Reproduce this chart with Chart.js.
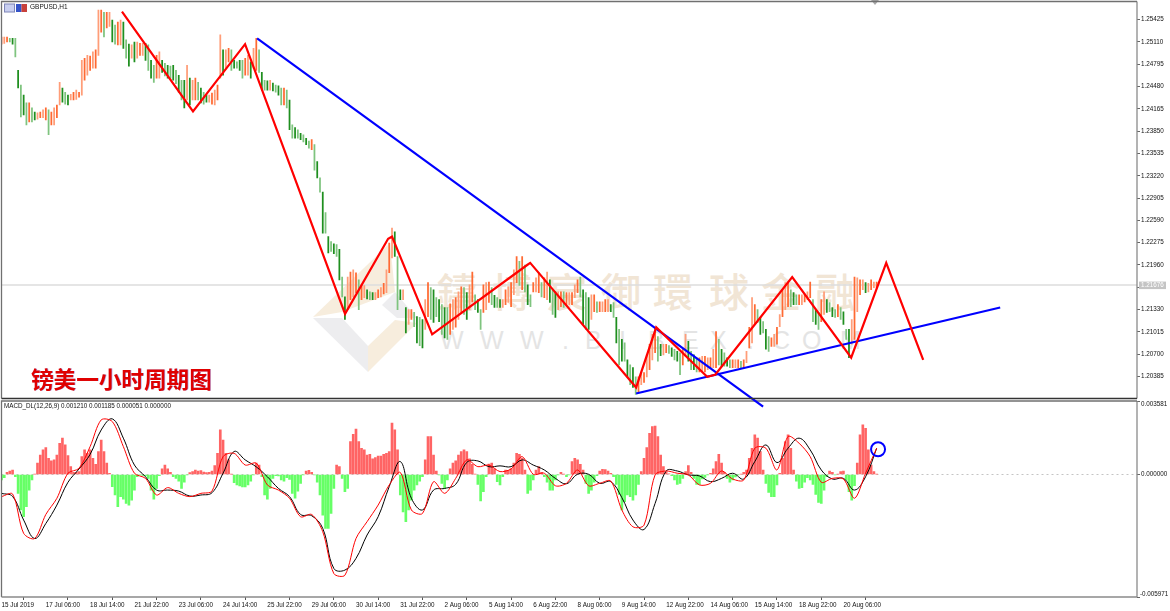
<!DOCTYPE html>
<html><head><meta charset="utf-8">
<style>
html,body{margin:0;padding:0;background:#fff;width:1170px;height:611px;overflow:hidden}
canvas,svg,.t{position:absolute;pointer-events:none}
.t{white-space:nowrap;font-family:"Liberation Sans",sans-serif;color:#111}
</style>
<script src="https://cdn.jsdelivr.net/npm/chart.js@4/dist/chart.umd.min.js"></script>
</head><body>
<svg style="left:0;top:0" width="1170" height="611">
<polygon points="313,317 390,243 395,292 342,312" fill="#f7eddd"/>
<polygon points="313,318 368,372 368,346 342,318" fill="#ededef"/>
<polygon points="368,372 417,323 395,320 368,346" fill="#f7eddd"/>
<polygon points="395,292 417,318 397,318 382,305" fill="#ededef"/>
<text y="307" x="437 492 547 601 653 709 761 815" font-family="Noto Sans CJK TC" font-size="40" font-weight="500" fill="#f1e5d5">鑄博宸御環球金融</text>
<text y="349" x="440 480 520 562 585 619 648 682 710 747 772 802 840" font-family="Liberation Sans" font-size="25" fill="#e4e4e4">WWW.BIBEX.COM</text>
<polygon points="871,0 879,0 875,5" fill="#a8a8a8"/>
<rect x="4.5" y="4" width="10" height="8" fill="#c9cff0" stroke="#7f86b8" stroke-width="1"/>
<rect x="16" y="4" width="5.5" height="8" fill="#3554c8"/><rect x="21.5" y="4" width="5.5" height="8" fill="#c8413b"/>
</svg>
<canvas id="macd" width="1170" height="211" style="left:0;top:400px"></canvas>
<canvas id="price" width="1170" height="412" style="left:0;top:0"></canvas>
<div class="t" style="left:30px;top:3px;font-size:6.5px;line-height:8px">GBPUSD,H1</div>
<div class="t" style="left:4px;top:402px;font-size:6.3px;line-height:8px">MACD_DL(12,26,9) 0.001210 0.001185 0.000051 0.000000</div>
<div class="t" style="left:31px;top:366px;font:bold 22.6px/26px 'Noto Sans CJK SC',sans-serif;color:#e00000;text-shadow:.7px 0 0 rgba(0,0,200,.35)">镑美一小时周期图</div>
<script>
const xLabels=["15 Jul 2019","17 Jul 06:00","18 Jul 14:00","21 Jul 22:00","23 Jul 06:00","24 Jul 14:00","25 Jul 22:00","29 Jul 06:00","30 Jul 14:00","31 Jul 22:00","2 Aug 06:00","5 Aug 14:00","6 Aug 22:00","8 Aug 06:00","9 Aug 14:00","12 Aug 22:00","14 Aug 06:00","15 Aug 14:00","18 Aug 22:00","20 Aug 06:00"];
const priceTicks=[1.25425,1.2511,1.24795,1.2448,1.24165,1.2385,1.23535,1.2322,1.22905,1.2259,1.22275,1.2196,1.21645,1.2133,1.21015,1.207,1.20385];
const lastPrice=1.21676;
const macdTicks=[0.003581,0,-0.005971];
const highs=[
1.2518,1.2518,1.2518,1.2516,1.2516,1.2516,1.2471,1.2450,1.2436,1.2425,
1.2425,1.2418,1.2412,1.2411,1.2412,1.2415,1.2418,1.2415,1.2412,1.2418,
1.2422,1.2454,1.2446,1.2440,1.2436,1.2437,1.2440,1.2443,1.2440,1.2485,
1.2488,1.2492,1.2491,1.2497,1.2500,1.2556,1.2556,1.2553,1.2553,1.2553,
1.2542,1.2535,1.2539,1.2542,1.2539,1.2514,1.2508,1.2507,1.2511,1.2511,
1.2509,1.2509,1.2509,1.2507,1.2485,1.2478,1.2492,1.2497,1.2485,1.2481,
1.2478,1.2477,1.2478,1.2471,1.2464,1.2457,1.2457,1.2478,1.2460,1.2457,
1.2460,1.2454,1.2446,1.2440,1.2436,1.2436,1.2439,1.2443,1.2450,1.2521,
1.2500,1.2500,1.2502,1.2500,1.2485,1.2483,1.2485,1.2485,1.2488,1.2492,
1.2483,1.2502,1.2516,1.2500,1.2468,1.2457,1.2456,1.2457,1.2453,1.2450,
1.2449,1.2446,1.2446,1.2443,1.2429,1.2394,1.2390,1.2387,1.2382,1.2380,
1.2375,1.2371,1.2373,1.2366,1.2342,1.2319,1.2299,1.2270,1.2236,1.2229,
1.2226,1.2225,1.2218,1.2179,1.2151,1.2179,1.2186,1.2189,1.2185,1.2175,
1.2168,1.2167,1.2161,1.2158,1.2157,1.2157,1.2161,1.2164,1.2170,1.2189,
1.2227,1.2248,1.2243,1.2208,1.2161,1.2161,1.2136,1.2133,1.2133,1.2129,
1.2123,1.2122,1.2119,1.2147,1.2171,1.2164,1.2161,1.2150,1.2147,1.2140,
1.2136,1.2136,1.2141,1.2147,1.2150,1.2158,1.2165,1.2164,1.2157,1.2168,
1.2186,1.2154,1.2147,1.2133,1.2168,1.2171,1.2172,1.2164,1.2153,1.2150,
1.2147,1.2147,1.2161,1.2165,1.2171,1.2189,1.2208,1.2201,1.2208,1.2196,
1.2168,1.2154,1.2171,1.2178,1.2185,1.2171,1.2178,1.2186,1.2175,1.2161,
1.2158,1.2158,1.2158,1.2158,1.2157,1.2157,1.2157,1.2168,1.2175,1.2179,
1.2161,1.2157,1.2150,1.2154,1.2154,1.2144,1.2144,1.2144,1.2147,1.2147,
1.2140,1.2143,1.2122,1.2105,1.2091,1.2086,1.2062,1.2055,1.2051,1.2038,
1.2038,1.2044,1.2044,1.2069,1.2084,1.2098,1.2108,1.2095,1.2084,1.2084,
1.2084,1.2082,1.2079,1.2077,1.2074,1.2072,1.2077,1.2098,1.2088,1.2074,
1.2069,1.2065,1.2065,1.2067,1.2067,1.2065,1.2065,1.2077,1.2102,1.2091,
1.2077,1.2072,1.2065,1.2062,1.2062,1.2062,1.2062,1.2060,1.2062,1.2074,
1.2108,1.2150,1.2140,1.2133,1.2122,1.2116,1.2105,1.2095,1.2093,1.2098,
1.2108,1.2126,1.2161,1.2171,1.2172,1.2161,1.2157,1.2154,1.2154,1.2154,
1.2155,1.2158,1.2172,1.2147,1.2133,1.2129,1.2147,1.2158,1.2147,1.2143,
1.2136,1.2133,1.2140,1.2136,1.2130,1.2105,1.2105,1.2119,1.2179,1.2178,
1.2175,1.2175,1.2171,1.2170,1.2175,1.2172,1.2172];
const lows=[
1.2508,1.2509,1.2511,1.2511,1.2508,1.2490,1.2446,1.2405,1.2408,1.2394,
1.2398,1.2398,1.2401,1.2402,1.2404,1.2404,1.2401,1.2380,1.2394,1.2394,
1.2404,1.2422,1.2426,1.2423,1.2422,1.2429,1.2429,1.2430,1.2433,1.2436,
1.2457,1.2464,1.2471,1.2474,1.2474,1.2492,1.2525,1.2518,1.2531,1.2533,
1.2511,1.2508,1.2507,1.2507,1.2502,1.2488,1.2477,1.2488,1.2483,1.2488,
1.2492,1.2492,1.2485,1.2471,1.2460,1.2454,1.2460,1.2460,1.2468,1.2463,
1.2460,1.2460,1.2457,1.2452,1.2440,1.2429,1.2418,1.2429,1.2422,1.2429,
1.2429,1.2429,1.2425,1.2423,1.2426,1.2426,1.2423,1.2422,1.2429,1.2460,
1.2464,1.2474,1.2483,1.2471,1.2474,1.2474,1.2471,1.2460,1.2464,1.2464,
1.2460,1.2474,1.2471,1.2468,1.2443,1.2443,1.2443,1.2443,1.2442,1.2440,
1.2436,1.2422,1.2422,1.2418,1.2387,1.2375,1.2375,1.2375,1.2373,1.2370,
1.2366,1.2361,1.2359,1.2330,1.2319,1.2299,1.2241,1.2241,1.2213,1.2215,
1.2212,1.2208,1.2175,1.2151,1.2119,1.2133,1.2147,1.2151,1.2157,1.2133,
1.2147,1.2150,1.2148,1.2147,1.2147,1.2147,1.2150,1.2151,1.2155,1.2157,
1.2185,1.2206,1.2208,1.2133,1.2147,1.2147,1.2100,1.2112,1.2119,1.2109,
1.2086,1.2082,1.2079,1.2105,1.2123,1.2119,1.2115,1.2123,1.2116,1.2098,
1.2093,1.2091,1.2098,1.2105,1.2108,1.2119,1.2129,1.2126,1.2119,1.2133,
1.2144,1.2133,1.2129,1.2105,1.2129,1.2133,1.2143,1.2140,1.2136,1.2136,
1.2136,1.2136,1.2140,1.2143,1.2137,1.2154,1.2171,1.2167,1.2161,1.2158,
1.2140,1.2137,1.2158,1.2158,1.2157,1.2151,1.2150,1.2147,1.2143,1.2126,
1.2122,1.2133,1.2137,1.2136,1.2139,1.2140,1.2140,1.2150,1.2157,1.2151,
1.2112,1.2105,1.2105,1.2119,1.2130,1.2129,1.2130,1.2130,1.2130,1.2130,
1.2130,1.2122,1.2086,1.2055,1.2060,1.2060,1.2038,1.2027,1.2023,1.2013,
1.2016,1.2027,1.2030,1.2038,1.2048,1.2062,1.2072,1.2060,1.2068,1.2069,
1.2072,1.2071,1.2067,1.2062,1.2060,1.2041,1.2055,1.2067,1.2060,1.2048,
1.2048,1.2045,1.2045,1.2045,1.2045,1.2048,1.2051,1.2051,1.2051,1.2055,
1.2053,1.2053,1.2053,1.2051,1.2051,1.2051,1.2051,1.2051,1.2051,1.2058,
1.2079,1.2086,1.2112,1.2115,1.2098,1.2100,1.2077,1.2074,1.2081,1.2081,
1.2084,1.2109,1.2123,1.2133,1.2137,1.2137,1.2140,1.2140,1.2140,1.2140,
1.2144,1.2147,1.2150,1.2116,1.2112,1.2105,1.2116,1.2126,1.2129,1.2130,
1.2123,1.2122,1.2123,1.2119,1.2112,1.2091,1.2065,1.2084,1.2091,1.2130,
1.2154,1.2161,1.2157,1.2158,1.2161,1.2164,1.2164];
// MACD values in units of 0.00001
const histE5=[
-27,-15,11,17,22,-11,-92,-173,-206,-157,
-76,-27,1,55,95,120,131,79,66,71,
95,152,177,144,92,38,11,11,14,87,
120,103,120,79,50,112,168,112,55,6,
-59,-100,-157,-108,-120,-141,-149,-125,-76,-11,
-2,-4,-7,-19,-76,-120,-68,-6,27,46,
27,11,-11,-19,-32,-68,-38,-2,9,14,
22,17,19,12,9,11,17,43,103,217,
168,103,71,1,-40,-51,-56,-61,-61,-51,
-32,-2,55,46,-11,-100,-120,-68,-19,-6,
-7,-27,-32,-15,-24,-92,-116,-81,-43,-2,
17,20,11,-2,-38,-100,-198,-263,-263,-190,
-68,46,38,-19,-84,-68,160,196,221,160,
128,120,95,98,76,82,90,90,98,103,
112,250,217,120,-100,-182,-230,-173,-125,-76,
-51,-32,-11,71,185,185,95,17,-2,-43,
-68,-27,27,55,66,95,112,120,112,76,
50,1,-48,-129,-84,-11,51,55,27,-35,
-51,-11,22,20,27,55,103,98,79,22,
-92,-76,-27,22,38,11,-11,-38,-76,-76,
-27,-2,11,1,-11,-2,63,79,71,50,
22,-43,-92,-76,-38,-6,17,25,24,17,
6,-11,-48,-97,-173,-133,-100,-108,-125,-100,
-48,14,79,131,201,233,236,185,95,38,
11,3,-6,-27,-48,-43,-19,14,43,11,
-19,-48,-48,-22,-14,-2,6,27,63,98,
55,11,-19,-38,-27,-12,-2,1,11,22,
79,128,193,177,111,22,-43,-87,-108,-108,
-51,6,79,160,193,128,22,-32,-68,-64,
-38,-15,-27,-48,-97,-136,-141,-76,-11,17,
11,-2,1,14,17,-27,-84,-125,-55,55,
193,242,225,120,46,14,2];
const macdMainE5=[
-108,-95,-287,-312,-195,-116,6,30,136,266,
258,136,6,-19,-100,-64,-92,-108,-92,-81,
87,103,46,55,-51,-76,-116,-206,-195,-279,
-483,-491,-312,-230,-149,-51,10,-173,-190,-35,
-92,-19,71,38,46,14,27,87,1,6,
-55,-43,22,-55,-43,-32,-173,-255,-247,-2,
17,6,-2,-51,-43,17,-22,-27,128,128,
22,185,152,87,-38,-19,-22,-116,6,128];
const macdSignalE5=[
-92,-107,-222,-312,-239,-149,-38,27,98,217,
271,177,46,-11,-76,-76,-81,-105,-100,-89,
6,112,71,37,-11,-68,-108,-195,-201,-263,
-458,-466,-409,-295,-206,-59,63,-116,-173,-76,
-68,-48,59,66,38,42,38,71,46,22,
-19,-45,1,1,-43,-35,-113,-222,-268,-141,
17,17,-2,-7,-35,-19,6,-22,63,144,
58,128,177,120,22,-22,-19,-76,-11,128];
// drawn trend lines as [hour-of-chart, price]
const redTrend=[[87,1.2554],[138.3,1.2413],[175.9,1.2508],[248.1,1.2127],[279.2,1.2233],[282,1.2236],[311,1.2098],[379.6,1.2196],[381.8,1.2199],[458.3,1.2023],[472.8,1.2108],[509.6,1.2038],[515.4,1.2041],[571,1.2179],[613.6,1.2065],[638.9,1.2199],[665.6,1.2062]];
const blueDown=[[184.6,1.2516],[550,1.1996]];
const blueUp=[[458.3,1.20145],[721.2,1.2136]];
const circleMark=[[633,0.00123]];

const FONT="Liberation Sans";
const barStep=2, lineStep=8, xMax=820, xStep=32;
const noPad=s=>{s.paddingLeft=s.paddingRight=s.paddingTop=s.paddingBottom=0};
const opts={responsive:false,animation:false,events:[],plugins:{legend:{display:false},tooltip:{enabled:false}}};
const framePlugin=(col)=>({id:'frame',afterDraw(c){const a=c.chartArea,x=c.ctx;x.save();x.lineWidth=1.3;
 x.strokeStyle='#8a8a8a';x.beginPath();x.moveTo(a.right,a.top);x.lineTo(a.right,a.bottom);x.stroke();
 x.strokeStyle=col.side;x.beginPath();x.moveTo(a.left,a.bottom);x.lineTo(a.left,a.top);x.lineTo(a.right,a.top);x.stroke();
 x.strokeStyle=col.bottom;x.beginPath();x.moveTo(a.left,a.bottom);x.lineTo(a.right,a.bottom);x.stroke();x.restore();}});
const xy=a=>a.map(p=>({x:p[0],y:p[1]}));
const lineDs=(a,color,w)=>({type:'line',data:xy(a),borderColor:color,borderWidth:w,pointRadius:0,clip:false,tension:0,order:0});

new Chart(document.getElementById('price'),{
 type:'bar',
 data:{datasets:[
  lineDs(redTrend,'#ff0000',2.2),
  lineDs(blueDown,'#0000ff',2.2),
  lineDs(blueUp,'#0000ff',2.2),
  {type:'bar',data:highs.map((h,i)=>({x:i*barStep,y:[lows[i],h]})),barThickness:1.1,order:1,
   backgroundColor:highs.map((h,i)=>{const m=h+lows[i],p=i?highs[i-1]+lows[i-1]:m,up=m>=p,d=i%2===0;
     return up?(d?'#ff6a33':'#ff9d78'):(d?'#1f8f1f':'#7fc47f');})},
  {type:'line',data:[{x:0,y:lastPrice},{x:xMax,y:lastPrice}],borderColor:'#dcdcdc',borderWidth:1.5,pointRadius:0,order:2}
 ]},
 options:{...opts,layout:{autoPadding:false,padding:{left:1.5,top:1.5,bottom:13.5,right:0}},
  scales:{
   x:{type:'linear',display:false,offset:false,min:0,max:xMax},
   y:{type:'linear',position:'right',min:1.20074,max:1.25682,
    afterFit(s){s.width=33;noPad(s)},
    afterBuildTicks(s){s.ticks=priceTicks.map(v=>({value:v}))},
    border:{display:false},
    grid:{drawOnChartArea:false,tickLength:3,color:'#666'},
    ticks:{autoSkip:false,padding:1,color:'#111',font:{family:FONT,size:6.3},callback:v=>v.toFixed(5)}}
  }},
 plugins:[framePlugin({side:'#707070',bottom:'#333'}),{id:'lastPrice',afterDraw(c){const x=c.ctx,y=c.scales.y.getPixelForValue(lastPrice);
  x.save();x.fillStyle='#c4c4c4';x.fillRect(1139,y-3.5,27,7.5);x.fillStyle='#fff';x.font='6.3px "'+FONT+'"';x.textBaseline='middle';x.fillText(lastPrice.toFixed(5),1141,y);x.restore();}}]
});

new Chart(document.getElementById('macd'),{
 type:'bar',
 data:{datasets:[
  {type:'line',data:xy(circleMark),showLine:false,pointRadius:7,pointBorderWidth:2,pointBorderColor:'#0000ff',pointBackgroundColor:'rgba(0,0,0,0)',order:0},
  {type:'line',data:macdMainE5.map((v,i)=>({x:i*lineStep,y:v*1e-5})),borderColor:'#ff0000',borderWidth:1,pointRadius:0,tension:.3,order:1},
  {type:'line',data:macdSignalE5.map((v,i)=>({x:i*lineStep,y:v*1e-5})),borderColor:'#000000',borderWidth:1,pointRadius:0,tension:.4,order:2},
  {type:'bar',data:histE5.map((v,i)=>({x:i*barStep,y:v*1e-5})),barThickness:2,order:3,
   backgroundColor:histE5.map(v=>v>=0?'#ff6464':'#66ff66')}
 ]},
 options:{...opts,layout:{autoPadding:false,padding:{left:1.5,top:1,right:0,bottom:0}},
  scales:{
   x:{type:'linear',offset:false,min:0,max:xMax,
    afterFit(s){s.height=14;noPad(s)},
    afterBuildTicks(s){s.ticks=xLabels.map((_,i)=>({value:i*xStep}))},
    border:{display:false},
    grid:{drawOnChartArea:false,tickLength:3,color:'#555'},
    ticks:{autoSkip:false,maxRotation:0,minRotation:0,align:'start',padding:1,color:'#111',font:{family:FONT,size:6.3},callback:v=>xLabels[Math.round(v/xStep)]}},
   y:{type:'linear',position:'right',min:-0.005971,max:0.003581,
    afterFit(s){s.width=33;noPad(s)},
    afterBuildTicks(s){s.ticks=macdTicks.map(v=>({value:v}))},
    border:{display:false,dash:[2,3]},
    grid:{tickLength:3,color:c=>c.tick&&c.tick.value===0?'#c4c4c4':'rgba(0,0,0,0)',tickColor:'#666'},
    ticks:{display:false}}
  }},
 plugins:[framePlugin({side:'#707070',bottom:'#8a8a8a'}),{id:'macdLabels',afterDraw(c){const x=c.ctx,s=c.scales.y;
  x.save();x.fillStyle='#111';x.font='6.3px "'+FONT+'"';x.textBaseline='middle';
  const off=[3,0,-3];macdTicks.forEach((v,i)=>x.fillText(v.toFixed(6),v<0?1140:1141,s.getPixelForValue(v)+off[i]));x.restore();}}]
});
</script>
</body></html>
